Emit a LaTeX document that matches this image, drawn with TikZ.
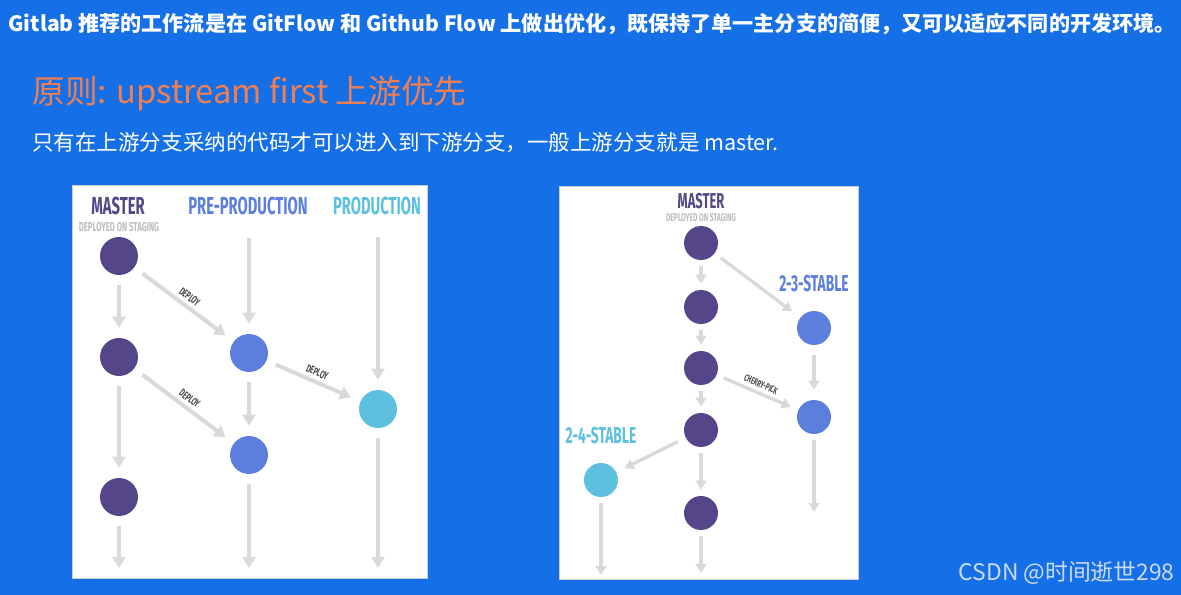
\documentclass[tikz,border=0pt]{standalone}
\usepackage{fontspec}
\setmainfont{Noto Sans CJK SC}
\newfontfamily\bebas[FakeStretch=0.6]{Fira Sans}
\usetikzlibrary{arrows.meta}

\definecolor{fond}{RGB}{21,112,232}
\definecolor{orange}{RGB}{240,126,80}
\definecolor{violet}{RGB}{85,70,138}
\definecolor{bleu}{RGB}{92,127,222}
\definecolor{cyan}{RGB}{92,192,222}
\definecolor{gris}{RGB}{217,217,217}
\definecolor{grisclair}{RGB}{190,190,190}
\definecolor{csdn}{RGB}{205,218,238}

\tikzset{
  texte/.style={inner sep=0pt},
  commit/.style={circle, inner sep=0pt, minimum size=0.76cm},
  petit/.style={circle, inner sep=0pt, minimum size=0.68cm},
  branche/.style={inner sep=0pt, font=\bebas\bfseries\fontsize{14}{14}\selectfont},
  sousbranche/.style={inner sep=0pt, font=\bebas\bfseries\fontsize{7.35}{7.35}\selectfont, text=grisclair},
  lien/.style={font=\bebas\bfseries\fontsize{6.2}{6.2}\selectfont, text=black!70, inner sep=2pt},
  fleche/.style={draw=gris, line width=0.08cm, -{Triangle[width=0.26cm,length=0.22cm]},
    shorten <=0.2cm, shorten >=0.2cm},
  fl/.style={draw=gris, line width=0.065cm, -{Triangle[width=0.21cm,length=0.18cm]},
    shorten <=0.12cm, shorten >=0.12cm}
}

\begin{document}
\begin{tikzpicture}[x=0.02cm, y=-0.02cm]
  \fill[fond] (0,0) rectangle (1181,595);
  \useasboundingbox (0,0) rectangle (1181,595);

  % textes
  \node[texte, text=white, font=\bfseries\fontsize{12}{14}\selectfont] (titre) at (592,24)
    {Gitlab 推荐的工作流是在 GitFlow 和 Github Flow 上做出优化，既保持了单一主分支的简便，又可以适应不同的开发环境。};
  \node[texte, anchor=west, text=orange, font=\fontsize{18.6}{20}\selectfont] (principe) at (32,93)
    {原则: upstream first 上游优先};
  \node[texte, anchor=west, text=white, font=\fontsize{12.25}{14}\selectfont] (regle) at (32,143)
    {只有在上游分支采纳的代码才可以进入到下游分支，一般上游分支就是 master.};
  \node[texte, anchor=east, text=csdn, font=\fontsize{13}{15}\selectfont] (csdn) at (1175,573)
    {CSDN @时间逝世298};

  % panneaux
  \draw[fill=white, draw=black!20] (72,185) rectangle (427,578);
  \draw[fill=white, draw=black!20] (559,186) rectangle (858,579);

  % --- gauche : master / pre-production / production
  \node[branche, text=violet] (lMaster) at (118,206) {MASTER};
  \node[sousbranche] (lStaging) at (119,227) {DEPLOYED ON STAGING};
  \node[branche, text=bleu] (lPre) at (248,206) {PRE-PRODUCTION};
  \node[branche, text=cyan] (lProd) at (377,206) {PRODUCTION};

  \node[commit, fill=violet] (m1) at (119,256) {};
  \node[commit, fill=violet] (m2) at (119,357) {};
  \node[commit, fill=violet] (m3) at (119,497) {};
  \node[commit, fill=bleu] (p1) at (249,353) {};
  \node[commit, fill=bleu] (p2) at (249,455) {};
  \node[commit, fill=cyan] (q1) at (378,409) {};

  \coordinate (pHaut) at (249,228);
  \coordinate (qHaut) at (378,227);
  \coordinate (mBas) at (119,578);
  \coordinate (pBas) at (249,578);
  \coordinate (qBas) at (378,578);

  \draw[fleche] (m1) -- (m2);
  \draw[fleche] (m2) -- (m3);
  \draw[fleche] (m3) -- (mBas);
  \draw[fleche] (pHaut) -- (p1);
  \draw[fleche] (p1) -- (p2);
  \draw[fleche] (p2) -- (pBas);
  \draw[fleche] (qHaut) -- (q1);
  \draw[fleche] (q1) -- (qBas);

  \draw[fleche] (m1) -- node[lien, sloped, above] {DEPLOY} (p1);
  \draw[fleche] (m2) -- node[lien, sloped, above] {DEPLOY} (p2);
  \draw[fleche] (p1) -- node[lien, sloped, above] {DEPLOY} (q1);

  % --- droite : master / stables
  \node[branche, text=violet, font=\bebas\bfseries\fontsize{12.25}{12.25}\selectfont] (rMaster) at (701,201) {MASTER};
  \node[sousbranche, font=\bebas\bfseries\fontsize{6.4}{6.4}\selectfont] (rStaging) at (701,218) {DEPLOYED ON STAGING};
  \node[branche, text=bleu, font=\bebas\bfseries\fontsize{13.1}{13.1}\selectfont] (s23) at (814,284) {2-3-STABLE};
  \node[branche, text=cyan, font=\bebas\bfseries\fontsize{13.1}{13.1}\selectfont] (s24) at (601,436) {2-4-STABLE};

  \node[petit, fill=violet] (r1) at (701,243) {};
  \node[petit, fill=violet] (r2) at (701,307) {};
  \node[petit, fill=violet] (r3) at (701,368) {};
  \node[petit, fill=violet] (r4) at (701,430) {};
  \node[petit, fill=violet] (r5) at (701,513) {};
  \node[petit, fill=bleu] (a1) at (814,328) {};
  \node[petit, fill=bleu] (a2) at (814,417) {};
  \node[petit, fill=cyan] (b1) at (601,480) {};

  \coordinate (rBas) at (701,579);
  \coordinate (aBas) at (814,518);
  \coordinate (bBas) at (601,581);

  \draw[fl] (r1) -- (r2);
  \draw[fl] (r2) -- (r3);
  \draw[fl] (r3) -- (r4);
  \draw[fl] (r4) -- (r5);
  \draw[fl] (r5) -- (rBas);
  \draw[fl, shorten <=0.2cm, shorten >=0.2cm] (a1) -- (a2);
  \draw[fl] (a2) -- (aBas);
  \draw[fl] (b1) -- (bBas);

  \draw[fl, shorten <=0.15cm, shorten >=0.2cm] (r1) -- (a1);
  \draw[fl, shorten <=0.15cm, shorten >=0.16cm] (r3) -- node[lien, sloped, above, font=\bebas\bfseries\fontsize{5.6}{5.6}\selectfont] {CHERRY-PICK} (a2);
  \draw[fl, shorten <=0.17cm, shorten >=0.18cm] (r4) -- (b1);
\end{tikzpicture}
\end{document}
